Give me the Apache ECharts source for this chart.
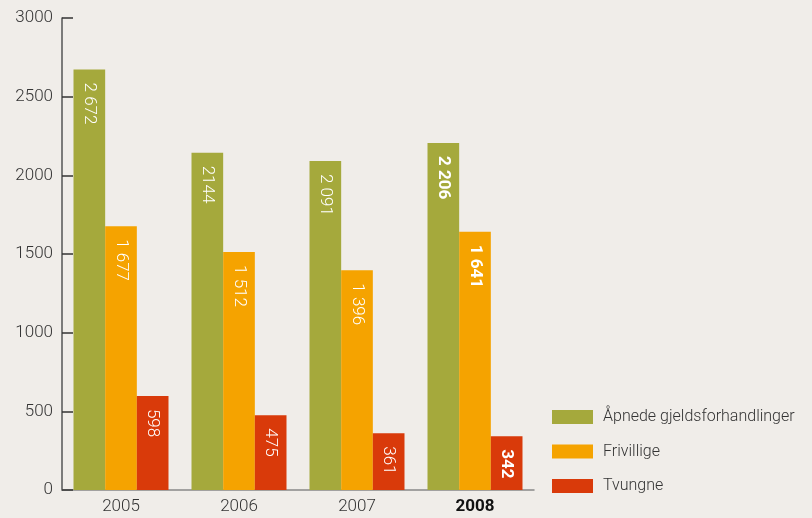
<!DOCTYPE html>
<html><head><meta charset="utf-8">
<script src="https://cdn.jsdelivr.net/npm/echarts@6/dist/echarts.min.js"></script>
<style>html,body{margin:0;padding:0;background:#f0ede9;}#c{width:812px;height:518px;}</style>
</head><body><div id="c"></div>
<script>
var categories = ['2005', '2006', '2007', '2008'];
var seriesNames = ['Åpnede gjeldsforhandlinger', 'Frivillige', 'Tvungne'];
var apnede = [2672, 2144, 2091, 2206];
var frivillige = [1677, 1512, 1396, 1641];
var tvungne = [598, 475, 361, 342];
var apnedeLabels = ['2 672', '2144', '2 091', '2 206'];
var frivilligeLabels = ['1 677', '1 512', '1 396', '1 641'];
var tvungneLabels = ['598', '475', '361', '342'];
var yTicks = [0, 500, 1000, 1500, 2000, 2500, 3000];
var colors = ['#a5a93c', '#f5a300', '#d93a0a'];

var FONT = 'Roboto';
function mk(name, vals, labels, color) {
  return {
    name: name, type: 'bar', barGap: '0%', barCategoryGap: '19.5%',
    itemStyle: { color: color },
    data: vals.map(function (v, i) {
      var last = i === vals.length - 1;
      return {
        value: v,
        label: {
          show: true, position: 'insideTop', rotate: -90, align: 'left', verticalAlign: 'middle',
          distance: 13, color: '#ffffff', fontFamily: FONT, fontSize: 17,
          fontWeight: last ? 'bold' : 300,
          formatter: labels[i]
        }
      };
    })
  };
}
var chart = echarts.init(document.getElementById('c'), null, { renderer: 'canvas' });
chart.setOption({
  backgroundColor: '#f0ede9',
  animation: false,
  grid: { left: 62, right: 278, top: 18, bottom: 28, containLabel: false },
  legend: {
    orient: 'vertical', left: 547, top: 404, itemWidth: 41, itemHeight: 14, itemGap: 18.5,
    icon: 'rect',
    textStyle: { fontFamily: FONT, fontSize: 16, color: '#333', fontWeight: 300, padding: [0, 0, 0, 5] },
    data: seriesNames
  },
  xAxis: {
    type: 'category', data: categories,
    axisLine: { lineStyle: { color: '#888', width: 1.5 } },
    axisTick: { show: false },
    axisLabel: {
      fontFamily: FONT, fontSize: 17, color: '#333', margin: 8,
      formatter: function (v) { return v === categories[categories.length - 1] ? '{b|' + v + '}' : '{n|' + v + '}'; },
      rich: { n: { fontFamily: FONT, fontSize: 17, color: '#333', fontWeight: 300 }, b: { fontFamily: FONT, fontSize: 17, color: '#111', fontWeight: 'bold' } }
    }
  },
  yAxis: {
    type: 'value', min: yTicks[0], max: yTicks[yTicks.length - 1], interval: 500,
    axisLine: { show: true, lineStyle: { color: '#555', width: 1.5 } },
    axisTick: { show: true, inside: true, length: 11, lineStyle: { color: '#333', width: 1.5 } },
    splitLine: { show: false },
    axisLabel: { fontFamily: FONT, fontSize: 17, color: '#333', fontWeight: 300, margin: 9,
      formatter: function (v) { return String(v); } }
  },
  series: [
    mk(seriesNames[0], apnede, apnedeLabels, colors[0]),
    mk(seriesNames[1], frivillige, frivilligeLabels, colors[1]),
    mk(seriesNames[2], tvungne, tvungneLabels, colors[2])
  ]
});
</script></body></html>
